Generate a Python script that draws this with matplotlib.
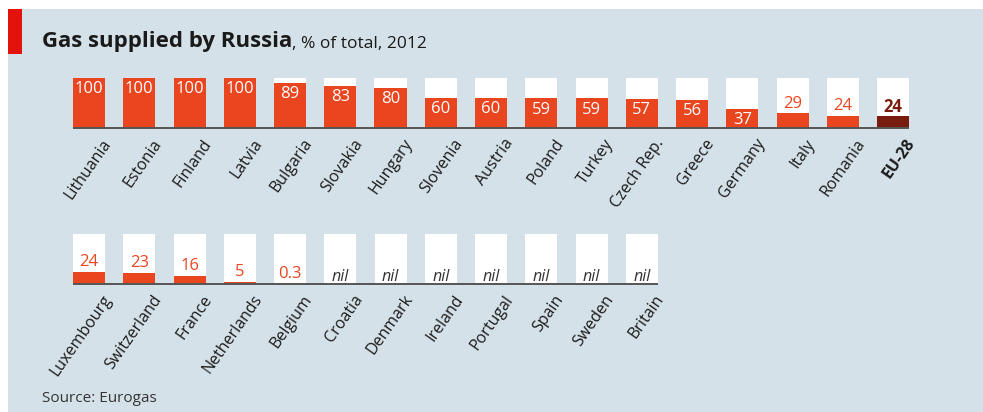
import matplotlib.pyplot as plt
from matplotlib.patches import Rectangle

plt.rcParams['font.family'] = ['Open Sans', 'DejaVu Sans']

# data
row1_names = ['Lithuania', 'Estonia', 'Finland', 'Latvia', 'Bulgaria', 'Slovakia',
              'Hungary', 'Slovenia', 'Austria', 'Poland', 'Turkey', 'Czech Rep.',
              'Greece', 'Germany', 'Italy', 'Romania', 'EU-28']
row1_vals = [100, 100, 100, 100, 89, 83, 80, 60, 60, 59, 59, 57, 56, 37, 29, 24, 24]
row1_text = ['100', '100', '100', '100', '89', '83', '80', '60', '60', '59', '59',
             '57', '56', '37', '29', '24', '24']

row2_names = ['Luxembourg', 'Switzerland', 'France', 'Netherlands', 'Belgium',
              'Croatia', 'Denmark', 'Ireland', 'Portugal', 'Spain', 'Sweden', 'Britain']
row2_vals = [24, 23, 16, 5, 0.3, 0, 0, 0, 0, 0, 0, 0]
row2_text = ['24', '23', '16', '5', '0.3', 'nil', 'nil', 'nil', 'nil', 'nil', 'nil', 'nil']

RED = '#e9451f'
DARK = '#7a1c0d'
BG = '#d5e1e8'
W, H = 983, 412

fig = plt.figure(figsize=(W / 100, H / 100), dpi=100)
fig.patch.set_facecolor('white')
fig.patches.append(Rectangle((8 / W, 0), 1, (H - 9) / H, transform=fig.transFigure,
                             facecolor=BG, edgecolor='none', zorder=-2))
fig.patches.append(Rectangle((8 / W, (H - 54) / H), 14 / W, 45 / H, transform=fig.transFigure,
                             facecolor='#e3120b', edgecolor='none', zorder=-1))

t1 = fig.text(42 / W, (H - 47) / H, 'Gas supplied by Russia', fontsize=16, fontweight='bold',
              color='#1a1a1a', va='baseline')
fig.add_artist(plt.Annotation(', % of total, 2012', xy=(1, 0), xycoords=t1,
                              xytext=(0, 0), textcoords='offset points',
                              fontsize=12.5, color='#1a1a1a', va='bottom'))
fig.text(42 / W, (H - 402) / H, 'Source: Eurogas', fontsize=11, color='#333333', va='baseline')

pitch = 50.25
bw = 0.64


def draw_row(names, vals, texts, base_px, highlight=None):
    n = len(names)
    width_px = (n - 1 + bw) * pitch
    ax = fig.add_axes([73 / W, (H - base_px) / H, width_px / W, 50 / H])
    ax.set_xlim(-bw / 2, n - 1 + bw / 2)
    ax.set_ylim(0, 100)
    ax.axis('off')
    xs = list(range(n))
    ax.bar(xs, [100] * n, width=bw, color='white', zorder=1)
    cols = [DARK if names[i] == highlight else RED for i in xs]
    ax.bar(xs, vals, width=bw, color=cols, zorder=2)
    ax.plot([-bw / 2, n - 1 + bw / 2], [0, 0], color='#555555', lw=1.4, zorder=3,
            clip_on=False, solid_capstyle='butt')
    for i in xs:
        v = vals[i]
        t = texts[i]
        if t == 'nil':
            ax.text(i, 14, t, ha='center', va='center', fontsize=11.5, style='italic',
                    color='#333333', zorder=4)
        elif v >= 35:
            ax.text(i, v - 22, t, ha='center', va='center', fontsize=12,
                    color='white', zorder=4)
        else:
            c = DARK if names[i] == highlight else RED
            fw = 'bold' if names[i] == highlight else 'normal'
            ax.text(i, max(v, 2) + 19, t, ha='center', va='center', fontsize=12,
                    color=c, fontweight=fw, zorder=4)
        fw = 'bold' if names[i] == highlight else 'normal'
        ax.text(i + 0.25, -16, names[i], rotation=55, rotation_mode='anchor',
                ha='right', va='top', fontsize=11.5, color='#1a1a1a', fontweight=fw,
                clip_on=False)
    return ax


draw_row(row1_names, row1_vals, row1_text, 128, highlight='EU-28')
draw_row(row2_names, row2_vals, row2_text, 284)

fig.savefig('out.png', dpi=100, facecolor=fig.get_facecolor())
